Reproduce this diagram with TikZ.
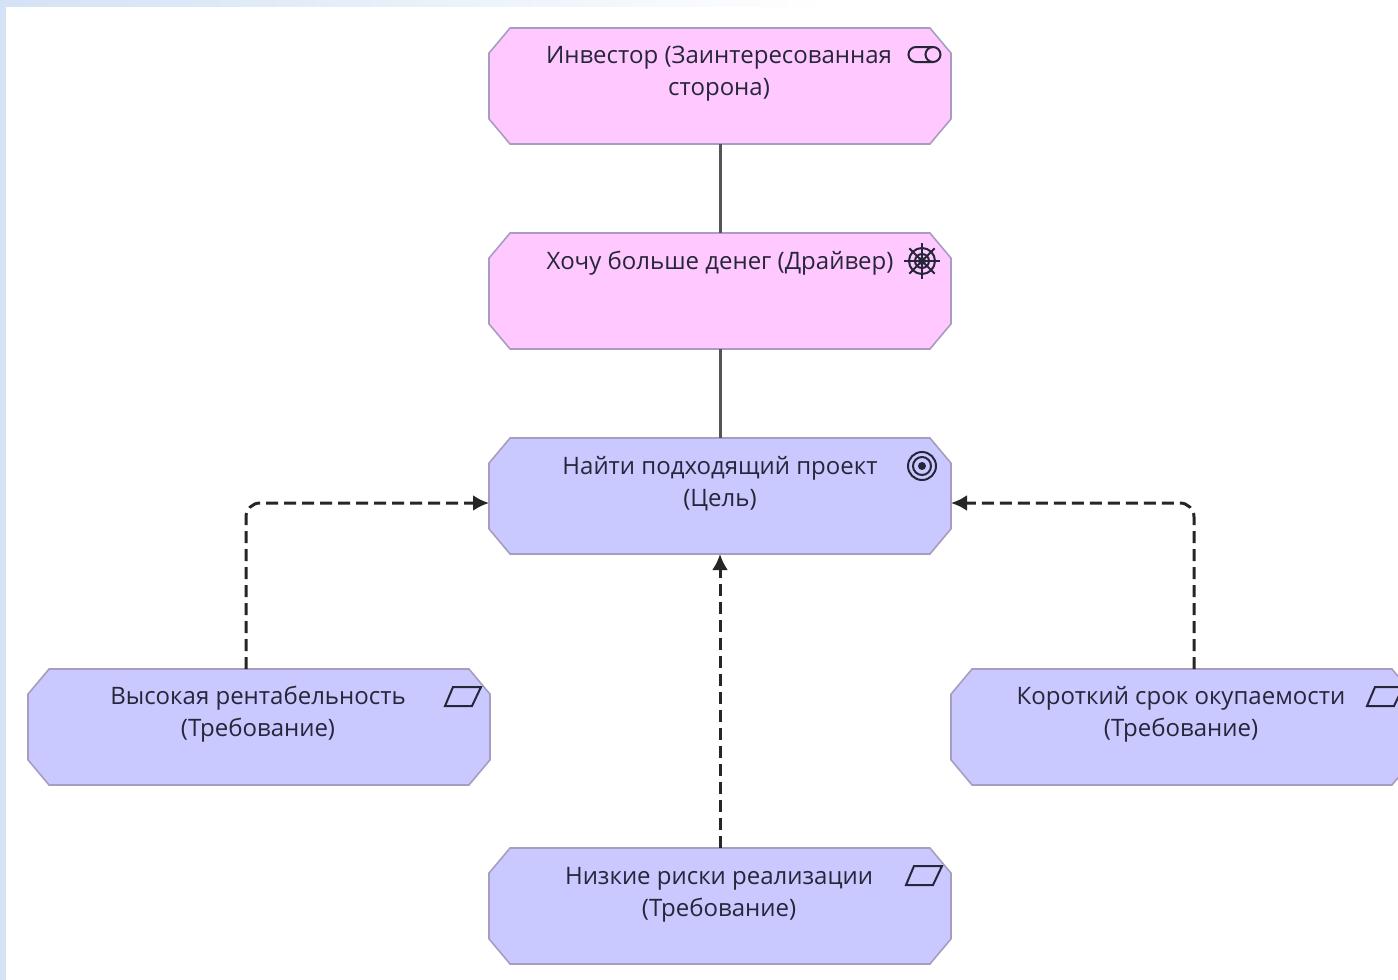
\documentclass[tikz,border=0pt]{standalone}
\usepackage{fontspec}
\setmainfont{Open Sans}
\usetikzlibrary{shapes.misc,arrows.meta}
\definecolor{motivpink}{HTML}{FFC9FF}
\definecolor{motivblue}{HTML}{C9C9FF}
\definecolor{boxedge}{HTML}{A79DBE}
\definecolor{inkdark}{HTML}{26263A}
\definecolor{linegray}{HTML}{555555}
\definecolor{framepale}{HTML}{D3E2F5}
\tikzset{
    motivbox/.style={chamfered rectangle,chamfered rectangle xsep=17pt,chamfered rectangle angle=40,
        inner xsep=11pt,inner ysep=9pt,
        minimum width=231pt,minimum height=58pt,outer sep=0pt,draw=boxedge,line width=0.8pt},
    boxtext/.style={align=center,text=inkdark,font=\fontsize{12}{16}\selectfont,inner sep=0pt},
    assoc/.style={linegray,line width=1.5pt},
    influence/.style={black!85,line width=1.5pt,dash pattern=on 6pt off 3pt,rounded corners=7pt,-{Latex[length=8pt,width=8pt]}},
    iconline/.style={inkdark,line width=1pt},
    reqicon/.pic={\draw[iconline] (-10,-9.5) -- (18,-9.5) -- (9,9.5) -- (-18,9.5) -- cycle;}
}
\begin{document}
\begin{tikzpicture}[x=0.5pt,y=-0.5pt]
    \useasboundingbox (0,0) rectangle (1398,980);
    \clip (0,0) rectangle (1398,980);
    \fill[white] (0,0) rectangle (1398,980);
    \fill[framepale] (0,0) rectangle (6,980);
    \shade[left color=framepale,right color=white] (6,0) rectangle (830,6);

    \node[motivbox,fill=motivpink] (investor) at (720,86) {};
    \node[motivbox,fill=motivpink] (driver) at (720,291) {};
    \node[motivbox,fill=motivblue] (goal) at (720,496) {};
    \node[motivbox,fill=motivblue] (reqleft) at (259,727) {};
    \node[motivbox,fill=motivblue] (reqright) at (1182,727) {};
    \node[motivbox,fill=motivblue] (reqlow) at (720,906) {};

    \node[boxtext] (investortext) at (719,74) {Инвестор (Заинтересованная\\сторона)};
    \node[boxtext] (drivertext) at (720,263) {Хочу больше денег (Драйвер)};
    \node[boxtext] (goaltext) at (720,483.5) {Найти подходящий проект\\(Цель)};
    \node[boxtext] (reqlefttext) at (258,714) {Высокая рентабельность\\(Требование)};
    \node[boxtext] (reqrighttext) at (1181,714) {Короткий срок окупаемости\\(Требование)};
    \node[boxtext] (reqlowtext) at (719,895) {Низкие риски реализации\\(Требование)};

    \draw[assoc] (investor.south) -- (driver.north);
    \draw[assoc] (driver.south) -- (goal.north);
    \draw[influence] ([xshift=-6.5pt]reqleft.north) |- ([yshift=-3.5pt]goal.west);
    \draw[influence] ([xshift=6pt]reqright.north) |- ([yshift=-3.5pt]goal.east);
    \draw[influence] (reqlow.north) -- (goal.south);

    \draw[iconline] (933,47) -- (916,47) arc (-90:-270:7.5) -- (933,62);
    \draw[iconline] (933,54.5) circle (7.5);

    \draw[iconline] (922,261) circle (13);
    \draw[iconline] (922,261) circle (7);
    \foreach \a in {0,45,...,315}
        \draw[iconline] (922,261) -- ++(\a:18);
    \fill[inkdark] (922,261) circle (4);

    \foreach \r in {14,9}
        \draw[iconline] (922,466) circle (\r);
    \fill[inkdark] (922,466) circle (4);

    \pic at (463,696.5) {reqicon};
    \pic at (924,875.5) {reqicon};
    \pic at (1385,696.5) {reqicon};
\end{tikzpicture}
\end{document}
